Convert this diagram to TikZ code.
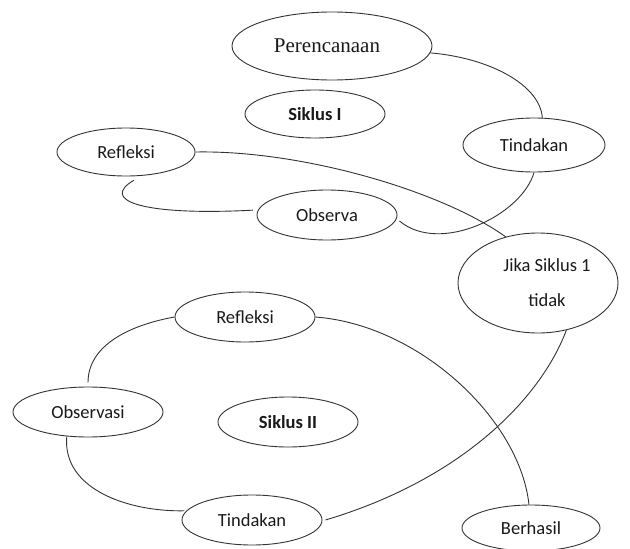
\documentclass[tikz,border=0pt]{standalone}
\usepackage{fontspec}
\setmainfont{Carlito}
\newfontfamily\serifA{Liberation Serif}
\usetikzlibrary{shapes.geometric}
\begin{document}
\begin{tikzpicture}[x=1pt,y=-1pt,
  el/.style={ellipse, draw=black!80, line width=0.9pt, inner sep=0pt,
    text=black!90, font=\fontsize{18.5}{22}\selectfont},
  conn/.style={draw=black!80, line width=0.9pt}]
\useasboundingbox (0,0) rectangle (630,549);
% Siklus I
\node[el, minimum width=200pt, minimum height=68pt,
  font=\serifA\fontsize{21}{24}\selectfont] (perc) at (332,46) {Perencanaan\hspace*{10pt}};
\node[el, minimum width=140pt, minimum height=48pt,
  font=\bfseries\fontsize{18.5}{22}\selectfont] (sik1) at (315,114) {Siklus I};
\node[el, minimum width=142pt, minimum height=54pt] (tind1) at (534,145) {Tindakan};
\node[el, minimum width=138pt, minimum height=48pt] (ref1) at (126,152) {Refleksi};
\node[el, minimum width=140pt, minimum height=50pt] (obs1) at (327,215) {Observa};
\node[el, minimum width=160pt, minimum height=100pt, align=center,
  font=\fontsize{18.5}{35}\selectfont] (jika) at (538,283)
  {\hspace*{18pt}Jika Siklus 1\\\hspace*{18pt}tidak};
% Siklus II
\node[el, minimum width=140pt, minimum height=50pt] (ref2) at (245,317) {Refleksi};
\node[el, minimum width=150pt, minimum height=50pt] (obs2) at (88,412) {Observasi};
\node[el, minimum width=140pt, minimum height=50pt,
  font=\bfseries\fontsize{18.5}{22}\selectfont] (sik2) at (288,422) {Siklus II};
\node[el, minimum width=140pt, minimum height=50pt] (tind2) at (252,520) {Tindakan};
\node[el, minimum width=138pt, minimum height=46pt] (berh) at (531,528) {Berhasil};
% connectors
\draw[conn] (perc.-4) .. controls (490,58) and (540,85) .. (tind1.73);
\draw[conn] (tind1.south) .. controls (522,215) and (440,255) .. ([xshift=4pt]obs1.-5);
\draw[conn] (ref1.east) .. controls (300,150) and (440,190) .. (jika.125);
\draw[conn] ([yshift=-4pt]ref1.-72) .. controls (100,200) and (140,216) .. ([xshift=-5pt]obs1.176);
\draw[conn] (jika.-59) .. controls (540,400) and (460,480) .. ([xshift=3pt]tind2.east);
\draw[conn] ([yshift=4pt]obs2.north) .. controls (88,345) and (130,325) .. (ref2.west);
\draw[conn] (obs2.-131) .. controls (62,490) and (130,512) .. ([xshift=-2pt]tind2.172);
\draw[conn] (ref2.east) .. controls (420,325) and (520,420) .. (berh.95);
\end{tikzpicture}
\end{document}
